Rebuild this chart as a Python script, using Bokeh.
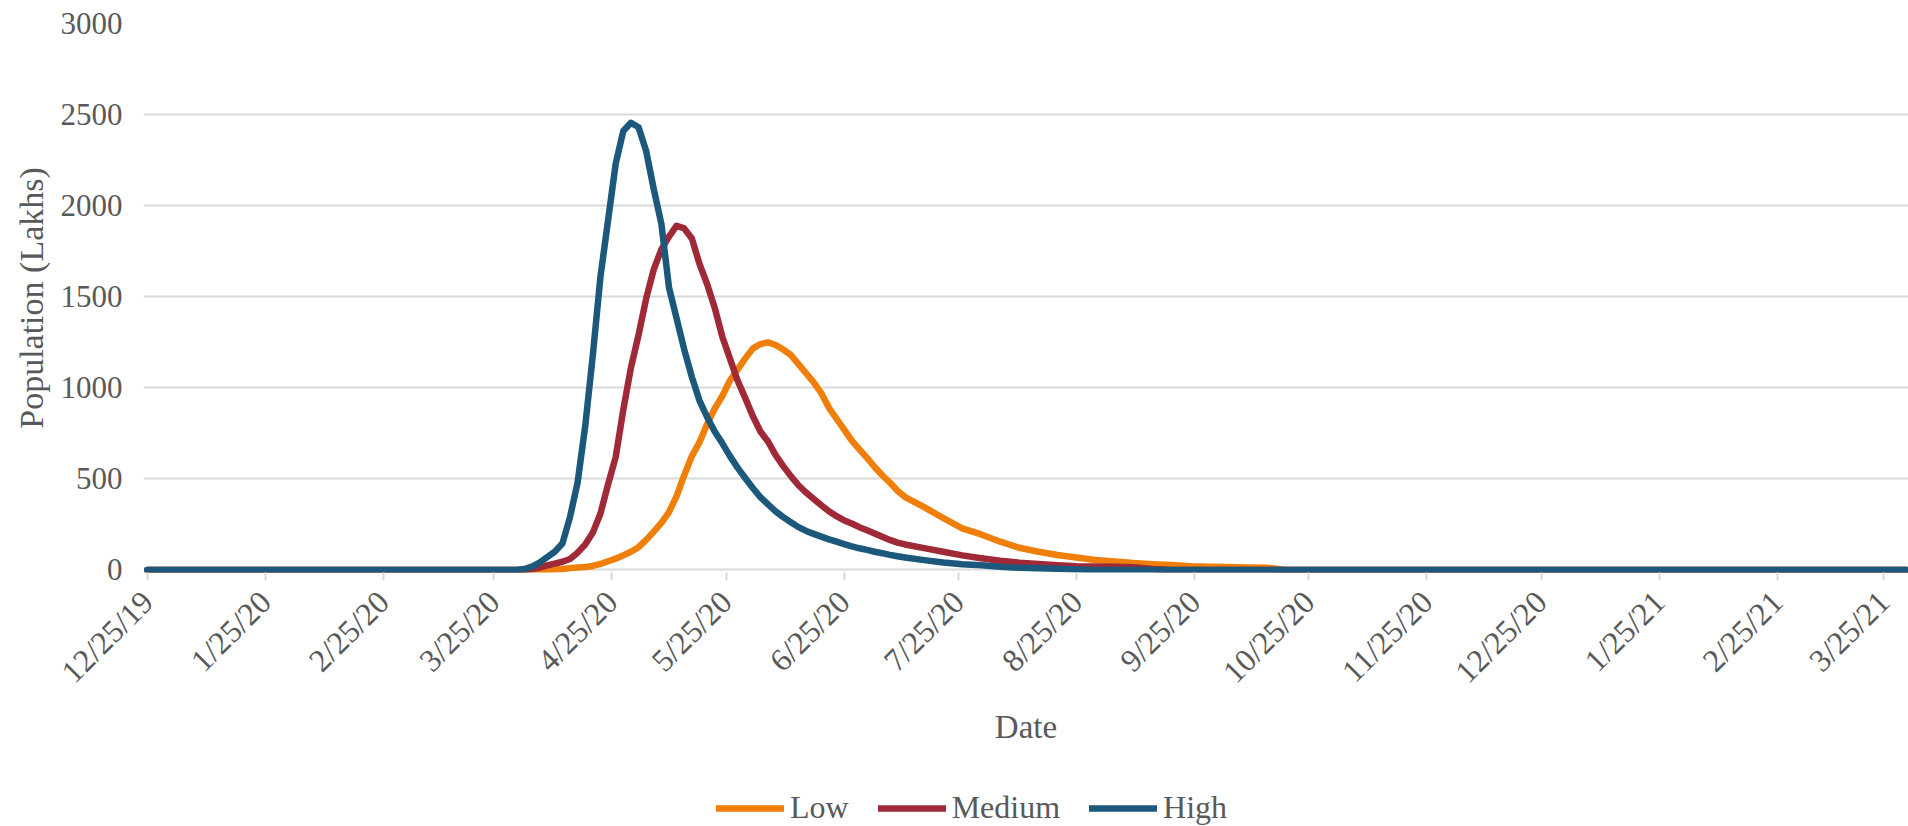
import datetime as dt
import pandas as pd
from bokeh.plotting import figure
from bokeh.layouts import column
from bokeh.models import (ColumnDataSource, FixedTicker, CustomJSTickFormatter,
                          Legend, LegendItem, Range1d)
from bokeh.embed import file_html
from bokeh.resources import INLINE

# ---------------- data ----------------
dates = [
    "2019-12-25", "2020-03-25",
    "2020-03-31", "2020-04-02", "2020-04-04", "2020-04-06", "2020-04-08", "2020-04-10",
    "2020-04-12", "2020-04-14", "2020-04-16", "2020-04-18", "2020-04-20", "2020-04-22",
    "2020-04-24", "2020-04-26", "2020-04-28", "2020-04-30", "2020-05-02", "2020-05-04",
    "2020-05-06", "2020-05-08", "2020-05-10", "2020-05-12", "2020-05-14", "2020-05-16",
    "2020-05-18", "2020-05-20", "2020-05-22", "2020-05-24", "2020-05-26", "2020-05-28",
    "2020-05-30", "2020-06-01", "2020-06-03", "2020-06-05", "2020-06-07", "2020-06-09",
    "2020-06-11", "2020-06-13", "2020-06-15", "2020-06-17", "2020-06-19", "2020-06-21",
    "2020-06-23", "2020-06-25", "2020-06-27", "2020-06-29", "2020-07-01", "2020-07-03",
    "2020-07-05", "2020-07-07", "2020-07-09", "2020-07-11",
    "2020-07-16", "2020-07-21", "2020-07-26", "2020-07-31", "2020-08-05", "2020-08-10",
    "2020-08-15", "2020-08-20", "2020-08-25", "2020-08-30", "2020-09-04", "2020-09-09",
    "2020-09-14", "2020-09-19", "2020-09-24", "2020-09-29", "2020-10-04", "2020-10-09",
    "2020-10-14", "2020-10-19",
    "2020-11-19", "2021-01-28", "2021-03-31",
]

low = [
    0, 0,
    0, 0, 0, 0, 0, 2,
    5, 10, 13, 16, 22, 33,
    48, 62, 80, 100, 125, 165,
    210, 258, 318, 405, 520, 625,
    700, 800, 885, 955, 1040, 1100,
    1160, 1215, 1240, 1249, 1235, 1210,
    1180, 1130, 1080, 1030, 970, 890,
    830, 770, 710, 662, 615, 565,
    520, 480, 435, 400,
    345, 285, 228, 195, 155, 122,
    100, 82, 68, 55, 47, 38,
    32, 27, 21, 18, 16, 14,
    12, 0,
    0, 0, 0,
]

medium = [
    0, 0,
    0, 0, 5, 12, 25, 35,
    45, 60, 95, 140, 205, 310,
    470, 620, 880, 1110, 1290, 1490,
    1650, 1760, 1830, 1890, 1875, 1820,
    1680, 1570, 1440, 1280, 1160, 1040,
    945, 845, 760, 705, 630, 570,
    515, 465, 425, 390, 355, 322,
    295, 272, 255, 235, 218, 200,
    182, 165, 150, 140,
    120, 100, 80, 64, 50, 40,
    33, 26, 21, 19, 17, 15,
    5, 0, 0, 0, 0, 0,
    0, 0,
    0, 0, 0,
]

high = [
    0, 0,
    0, 5, 18, 40, 70, 100,
    145, 290, 480, 790, 1180, 1610,
    1920, 2230, 2410, 2455, 2430, 2300,
    2090, 1900, 1550, 1380, 1210, 1060,
    930, 840, 760, 695, 625, 562,
    505, 450, 400, 360, 322, 290,
    262, 235, 214, 198, 183, 168,
    155, 142, 130, 119, 110, 100,
    92, 83, 75, 68,
    54, 41, 31, 26, 17, 12,
    9, 6, 3, 0, 0, 0,
    0, 0, 0, 0, 0, 0,
    0, 0,
    0, 0, 0,
]

tick_dates = [
    "2019-12-25", "2020-01-25", "2020-02-25", "2020-03-25", "2020-04-25",
    "2020-05-25", "2020-06-25", "2020-07-25", "2020-08-25", "2020-09-25",
    "2020-10-25", "2020-11-25", "2020-12-25", "2021-01-25", "2021-02-25",
    "2021-03-25",
]
y_ticks = [0, 500, 1000, 1500, 2000, 2500, 3000]
series_names = ["Low", "Medium", "High"]
series_colors = ["#F07F09", "#9F2936", "#1B587C"]

# ---------------- figure ----------------
FONT = "Liberation Serif"
TXT = "#595959"
GRID = "#D9D9D9"
W = 1908
H_MAIN = 766
H_LEG = 60

src = ColumnDataSource(dict(x=pd.to_datetime(dates), Low=low, Medium=medium, High=high))

p = figure(
    width=W, height=H_MAIN,
    x_axis_type="datetime",
    x_range=Range1d(dt.datetime(2019, 12, 24), dt.datetime(2021, 3, 31, 12)),
    y_range=Range1d(-14, 3000),
    output_backend="svg", toolbar_location=None,
    min_border_left=143, min_border_right=0, min_border_top=23, min_border_bottom=194,
)
p.outline_line_color = None
p.background_fill_color = "white"

for name, col in zip(series_names, series_colors):
    p.line("x", name, source=src, line_color=col, line_width=6.5,
           line_join="round", line_cap="round")

# y axis
p.yaxis.ticker = FixedTicker(ticks=y_ticks)
p.yaxis.axis_line_color = None
p.yaxis.major_tick_line_color = None
p.yaxis.minor_tick_line_color = None
p.yaxis.major_tick_out = 0
p.yaxis.major_tick_in = 0
p.yaxis.major_label_standoff = 21
p.yaxis.major_label_text_font = FONT
p.yaxis.major_label_text_font_size = "31px"
p.yaxis.major_label_text_color = TXT
p.yaxis.axis_label = "Population (Lakhs)"
p.yaxis.axis_label_text_font = FONT
p.yaxis.axis_label_text_font_size = "34px"
p.yaxis.axis_label_text_font_style = "normal"
p.yaxis.axis_label_text_color = TXT
p.yaxis.axis_label_standoff = 8

p.ygrid.ticker = FixedTicker(ticks=y_ticks)
p.ygrid.grid_line_color = GRID
p.ygrid.grid_line_width = 2
p.xgrid.visible = False

# x axis
tick_ms = [pd.Timestamp(d).timestamp() * 1000 for d in tick_dates]
p.xaxis.ticker = FixedTicker(ticks=tick_ms)
p.xaxis.formatter = CustomJSTickFormatter(code="""
    const d = new Date(tick);
    return (d.getUTCMonth() + 1) + "/" + d.getUTCDate() + "/" + String(d.getUTCFullYear()).slice(2);
""")
p.xaxis.axis_line_color = None
p.xaxis.major_tick_line_color = GRID
p.xaxis.major_tick_line_width = 2
p.xaxis.major_tick_out = 8
p.xaxis.major_tick_in = 0
p.xaxis.minor_tick_line_color = None
p.xaxis.major_label_orientation = 0.7853981633974483
p.xaxis.major_label_standoff = 16
p.xaxis.major_label_text_font = FONT
p.xaxis.major_label_text_font_size = "32px"
p.xaxis.major_label_text_color = TXT
p.xaxis.axis_label = "Date"
p.xaxis.axis_label_text_font = FONT
p.xaxis.axis_label_text_font_size = "33px"
p.xaxis.axis_label_text_font_style = "normal"
p.xaxis.axis_label_text_color = TXT
p.xaxis.axis_label_standoff = 4

# legend strip (separate figure below the chart; same series drawn out of view)
pl = figure(
    width=W, height=H_LEG, output_backend="svg", toolbar_location=None,
    x_axis_location=None, y_axis_location=None,
    x_range=Range1d(0, 1), y_range=Range1d(0, 1),
    min_border_left=0, min_border_right=0, min_border_top=0, min_border_bottom=0,
)
pl.outline_line_color = None
pl.xgrid.visible = False
pl.ygrid.visible = False
leg_renderers = []
for name, col in zip(series_names, series_colors):
    r = pl.line("x", name, source=src, line_color=col, line_width=6.5,
                line_join="round", line_cap="round")
    leg_renderers.append(r)

legend = Legend(
    items=[LegendItem(label=n, renderers=[r]) for n, r in zip(series_names, leg_renderers)],
    orientation="horizontal",
    location=(573, 0),
    background_fill_alpha=0, border_line_color=None,
    label_text_font=FONT, label_text_font_size="32px", label_text_color=TXT,
    glyph_width=68, glyph_height=30, label_standoff=6, spacing=29,
    padding=0, margin=0,
)
pl.add_layout(legend)

layout = column(p, pl, spacing=0)
open("out.html", "w").write(file_html(layout, INLINE))
